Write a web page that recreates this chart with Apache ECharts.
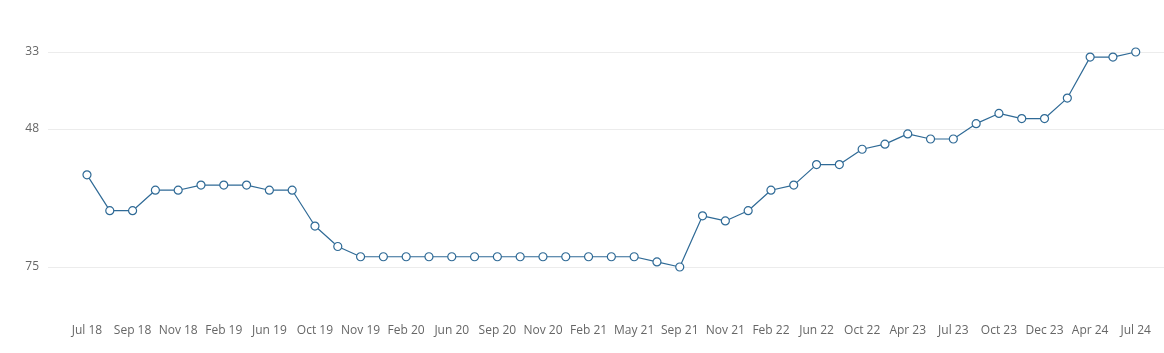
<!DOCTYPE html>
<html>
<head>
<meta charset="utf-8">
<script src="https://cdn.jsdelivr.net/npm/echarts@6/dist/echarts.min.js"></script>
<style>
  html, body { margin: 0; padding: 0; background: #fff; }
  #chart { width: 1164px; height: 353px; }
</style>
</head>
<body>
<div id="chart"></div>
<script>
// one entry per observation; every other one is labelled on the axis
const months = [
  'Jul 18', 'Aug 18', 'Sep 18', 'Oct 18', 'Nov 18', 'Jan 19', 'Feb 19', 'Apr 19', 'Jun 19', 'Aug 19',
  'Oct 19', 'Oct 19', 'Nov 19', 'Dec 19', 'Feb 20', 'Apr 20', 'Jun 20', 'Aug 20', 'Sep 20', 'Oct 20',
  'Nov 20', 'Jan 21', 'Feb 21', 'Apr 21', 'May 21', 'Jul 21', 'Sep 21', 'Oct 21', 'Nov 21', 'Jan 22',
  'Feb 22', 'Apr 22', 'Jun 22', 'Aug 22', 'Oct 22', 'Jan 23', 'Apr 23', 'May 23', 'Jul 23', 'Sep 23',
  'Oct 23', 'Nov 23', 'Dec 23', 'Feb 24', 'Apr 24', 'May 24', 'Jul 24'
]
const ranks = [
  57, 64, 64, 60, 60, 59, 59, 59, 60, 60,
  67, 71, 73, 73, 73, 73, 73, 73, 73, 73,
  73, 73, 73, 73, 73, 74, 75, 65, 66, 64,
  60, 59, 55, 55, 52, 51, 49, 50, 50, 47,
  45, 46, 46, 42, 34, 34, 33
]
const yTicks = [33, 48, 75]

const labelIdx = months.map((m, i) => i).filter((i) => i % 2 === 0)
const color = '#2f6a96'

const chart = echarts.init(document.getElementById('chart'), null, { renderer: 'canvas' })
chart.setOption({
  animation: false,
  grid: { left: 48, right: 0, top: 52, bottom: 86 },
  xAxis: {
    type: 'value',
    min: -1.71,
    max: 47.24,
    axisLine: { show: false },
    axisTick: { show: false },
    splitLine: { show: false },
    axisLabel: {
      customValues: labelIdx,
      margin: 58,
      color: '#666',
      fontSize: 12,
      fontFamily: 'Open Sans',
      formatter: (v) => months[Math.round(v)] || '',
    },
  },
  yAxis: {
    type: 'value',
    inverse: true,
    min: 33,
    max: 75,
    axisLine: { show: false },
    axisTick: { show: false, customValues: yTicks },
    axisLabel: {
      customValues: yTicks,
      margin: 9,
      color: '#666',
      fontSize: 12,
      fontFamily: 'Open Sans',
    },
    splitLine: { show: true, lineStyle: { color: '#ececec', width: 1 } },
  },
  series: [
    {
      type: 'line',
      data: ranks.map((v, i) => [i, v]),
      symbol: 'circle',
      symbolSize: 8,
      showSymbol: true,
      lineStyle: { color: color, width: 1.2 },
      itemStyle: { color: '#fff', borderColor: color, borderWidth: 1.2 },
      clip: false,
    },
  ],
})
</script>
</body>
</html>
